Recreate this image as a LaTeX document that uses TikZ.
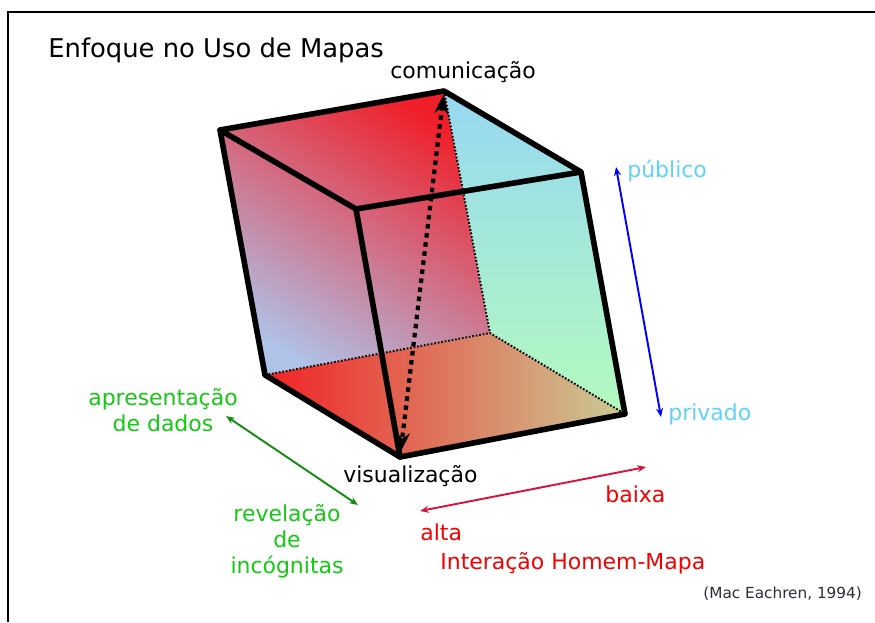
\documentclass[tikz,border=0pt]{standalone}
\usepackage{fontspec}
\setmainfont{DejaVu Sans}
\usetikzlibrary{arrows.meta}
\definecolor{vermelho}{RGB}{240,30,40}
\definecolor{lavanda}{RGB}{175,195,232}
\definecolor{azulclaro}{RGB}{150,216,242}
\definecolor{verdeclaro}{RGB}{180,250,190}
\definecolor{chao}{RGB}{202,204,150}
\definecolor{cianotxt}{RGB}{95,210,250}
\definecolor{verdetxt}{RGB}{20,200,20}
\definecolor{verdeseta}{RGB}{20,140,20}
\definecolor{vermseta}{RGB}{215,20,60}
\definecolor{vermtxt}{RGB}{245,0,0}
\definecolor{citacao}{RGB}{45,45,55}
\begin{document}
\begin{tikzpicture}[x=0.02cm,y=-0.02cm,
  aresta/.style={line width=3.2pt,line join=round,line cap=round},
  oculta/.style={line width=1.1pt,dash pattern=on 1pt off 1pt},
  eixo/.style={line width=1.1pt,{Stealth[length=5pt,width=4pt]}-{Stealth[length=5pt,width=4pt]}},
  rotulo/.style={font=\fontsize{12.5}{14.7}\selectfont,inner sep=0pt}]
\useasboundingbox (0,0) rectangle (875,622);
% 边框
\draw[line width=1.5pt] (8,622) -- (8,12) -- (875,12);
% 立方体顶点
\coordinate (vA) at (220,130);
\coordinate (vB) at (444,91);
\coordinate (vC) at (581,172);
\coordinate (vD) at (356,209);
\coordinate (vE) at (265,375);
\coordinate (vF) at (490,333);
\coordinate (vG) at (625,414);
\coordinate (vH) at (400,457);
% 面的渐变
\shade[top color=vermelho,bottom color=lavanda,shading angle=-32] (vA) -- (vB) -- (vF) -- (vE) -- cycle;
\shade[top color=azulclaro,bottom color=verdeclaro] (vB) -- (vC) -- (vG) -- (vF) -- cycle;
\shade[left color=vermelho!95!orange,right color=chao] (vE) -- (vF) -- (vG) -- (vH) -- cycle;
% 隐藏的棱
\draw[oculta] (vB) -- (vF);
\draw[oculta] (vE) -- (vF) -- (vG);
% 对角虚线箭头
\draw[line width=2.4pt,dash pattern=on 2.6pt off 2.6pt,
  {Stealth[length=11pt,width=8pt]}-{Stealth[length=11pt,width=8pt]},
  shorten <=2pt,shorten >=3pt] (vB) -- (vH);
% 可见的棱
\draw[aresta] (vA) -- (vB) -- (vC) -- (vD) -- cycle;
\draw[aresta] (vA) -- (vE) -- (vH) -- (vG) -- (vC);
\draw[aresta] (vD) -- (vH);
% 标题和顶点标注
\node[anchor=base west,inner sep=0pt,font=\fontsize{14.7}{17}\selectfont] (titulo) at (48,57) {Enfoque no Uso de Mapas};
\node[rotulo,anchor=base west] (comun) at (390,78) {comunicação};
\node[rotulo,anchor=base west] (visual) at (343,482) {visualização};
% 公共/私人
\coordinate (pubTop) at (616,167);
\coordinate (pubBot) at (661,417);
\draw[eixo,blue] (pubTop) -- (pubBot);
\node[rotulo,anchor=base west,text=cianotxt] (publico) at (627,177) {público};
\node[rotulo,anchor=base west,text=cianotxt] (privado) at (668,420) {privado};
% 数据展示/未知揭示
\coordinate (apTop) at (226,416);
\coordinate (apBot) at (358,505);
\draw[eixo,verdeseta] (apTop) -- (apBot);
\node[rotulo,align=center,text=verdetxt] (apres) at (163,410) {apresentação\\de dados};
\node[rotulo,align=center,text=verdetxt] (revel) at (287,541) {revelação\\de\\incógnitas};
% 人机交互
\coordinate (intDir) at (646,467);
\coordinate (intEsq) at (420,511);
\draw[eixo,vermseta] (intEsq) -- (intDir);
\node[rotulo,anchor=base west,text=vermtxt] (baixa) at (605,502) {baixa};
\node[rotulo,anchor=base west,text=vermtxt] (alta) at (420,540) {alta};
\node[rotulo,anchor=base west,text=vermtxt] (interacao) at (440,569) {Interação Homem-Mapa};
% 引用
\node[anchor=base west,inner sep=0pt,font=\fontsize{8.7}{10}\selectfont,text=citacao] (ref) at (703,598) {(Mac Eachren, 1994)};
\end{tikzpicture}
\end{document}
